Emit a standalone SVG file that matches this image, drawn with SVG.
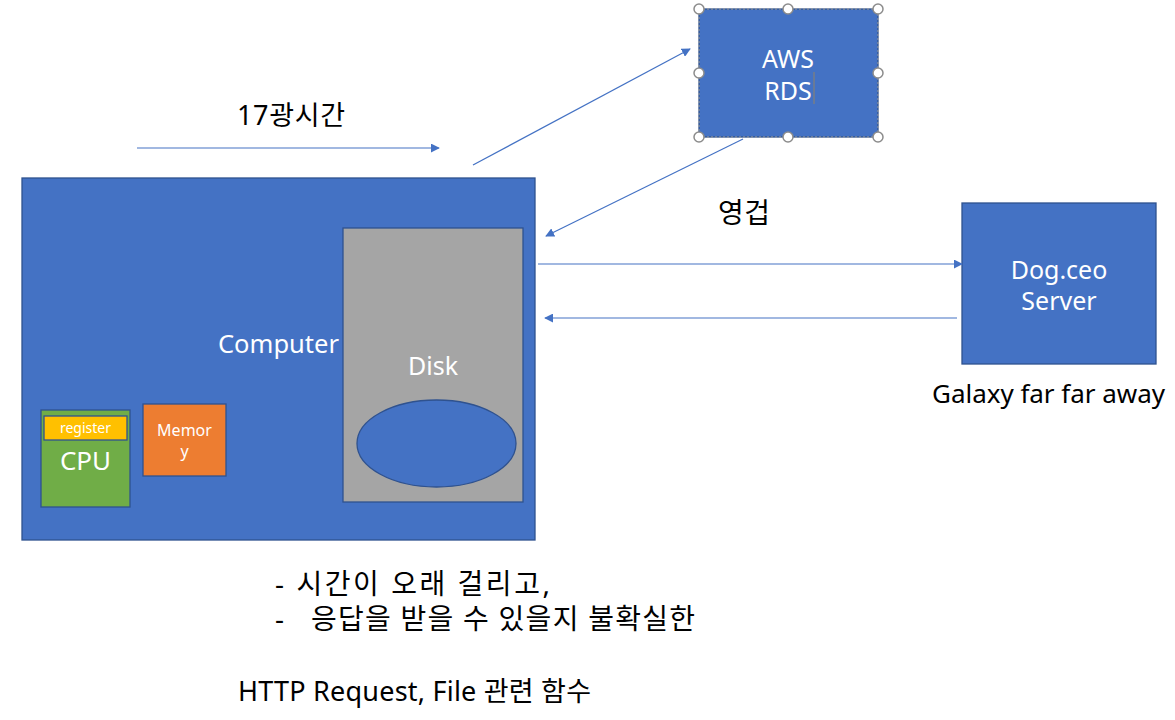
<svg xmlns="http://www.w3.org/2000/svg" width="1175" height="720" viewBox="0 0 1175 720">
<style>
text{font-family:"Noto Sans","Noto Sans CJK KR",sans-serif;}
.w{fill:#fff;}
.k{fill:#000;}
.blue{fill:#4472C4;stroke:#2F528F;stroke-width:1.3;}
.conn{stroke:#4472C4;stroke-width:1.2;fill:none;marker-end:url(#ah);}
.hd{fill:#fff;stroke:#8C8C8C;stroke-width:1.5;}
</style>
<defs>
<marker id="ah" viewBox="0 0 10 10" refX="9" refY="5" markerWidth="9" markerHeight="9" markerUnits="userSpaceOnUse" orient="auto">
<path d="M0,0 L10,5 L0,10 z" fill="#4472C4"/>
</marker>
</defs>
<rect width="1175" height="720" fill="#fff"/>

<g id="computer">
<rect class="blue" x="22" y="178" width="513" height="362"/>
<text class="w" x="218" y="353" font-size="25" textLength="121" lengthAdjust="spacingAndGlyphs">Computer</text>
</g>
<g id="disk">
<rect x="343" y="228" width="180" height="274" fill="#A5A5A5" stroke="#2F528F" stroke-width="1.3"/>
<text class="w" x="433" y="375" font-size="25" text-anchor="middle">Disk</text>
<ellipse class="blue" cx="436.5" cy="443.5" rx="79.5" ry="43.5"/>
</g>
<g id="cpu">
<rect x="41" y="410" width="89" height="97" fill="#70AD47" stroke="#2F528F" stroke-width="1.3"/>
<rect x="44" y="416" width="83" height="24" fill="#FFC000" stroke="#2F528F" stroke-width="1.3"/>
<text class="w" x="85.5" y="433" font-size="14" text-anchor="middle">register</text>
<text class="w" x="85.5" y="470" font-size="26" text-anchor="middle">CPU</text>
</g>
<g id="memory">
<rect x="143" y="404" width="83" height="72" fill="#ED7D31" stroke="#2F528F" stroke-width="1.3"/>
<text class="w" x="184.5" y="436" font-size="16" text-anchor="middle">Memor</text>
<text class="w" x="184.5" y="457" font-size="16" text-anchor="middle">y</text>
</g>
<g id="aws-rds">
<rect class="blue" x="699" y="9" width="179" height="128"/>
<rect x="699" y="9" width="179" height="128" fill="none" stroke="#A0A0A0" stroke-width="1" stroke-dasharray="2,2"/>
<text class="w" x="788" y="68" font-size="25" text-anchor="middle">AWS</text>
<text class="w" x="788" y="100" font-size="25" text-anchor="middle">RDS</text>
<line x1="814" y1="72" x2="814" y2="104" stroke="#7F7F7F" stroke-width="1.3"/>
<circle class="hd" cx="699" cy="9" r="5"/>
<circle class="hd" cx="788" cy="9" r="5"/>
<circle class="hd" cx="878" cy="9" r="5"/>
<circle class="hd" cx="699" cy="73" r="5"/>
<circle class="hd" cx="878" cy="73" r="5"/>
<circle class="hd" cx="699" cy="137" r="5"/>
<circle class="hd" cx="788" cy="137" r="5"/>
<circle class="hd" cx="878" cy="137" r="5"/>
</g>
<g id="dog-server">
<rect class="blue" x="962" y="203" width="194" height="161"/>
<text class="w" x="1059" y="279" font-size="25" text-anchor="middle">Dog.ceo</text>
<text class="w" x="1059" y="310" font-size="25" text-anchor="middle">Server</text>
<text class="k" x="932" y="403" font-size="26" textLength="233" lengthAdjust="spacing">Galaxy far far away</text>
</g>

<g id="connectors">
<line class="conn" x1="137" y1="148" x2="439" y2="148"/>
<line class="conn" x1="473" y1="165" x2="690" y2="49"/>
<line class="conn" x1="743" y1="139" x2="546" y2="236"/>
<line class="conn" x1="538" y1="264" x2="962" y2="264"/>
<line class="conn" x1="957" y1="318" x2="545" y2="318"/>
</g>

<g id="labels">
<text class="k" x="237" y="125" font-size="27" textLength="108" lengthAdjust="spacing">17광시간</text>
<text class="k" x="718" y="223" font-size="28" textLength="52" lengthAdjust="spacing">영겁</text>
<text class="k" x="275" y="594" font-size="28" textLength="275" lengthAdjust="spacing">- 시간이 오래 걸리고,</text>
<text class="k" x="275" y="629" font-size="28" textLength="420" lengthAdjust="spacing" xml:space="preserve">-   응답을 받을 수 있을지 불확실한</text>
<text class="k" x="238" y="701" font-size="27" textLength="353" lengthAdjust="spacing">HTTP Request, File 관련 함수</text>
</g>
</svg>
